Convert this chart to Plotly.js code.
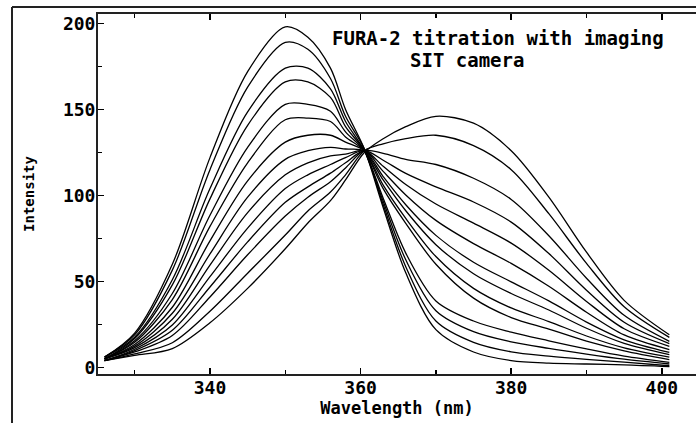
<!DOCTYPE html>
<html>
<head>
<meta charset="utf-8">
<script src="https://cdn.plot.ly/plotly-3.0.1.min.js"></script>
<style>html,body{margin:0;padding:0;background:#fff;}#chart{width:696px;height:423px;}</style>
</head>
<body>
<div id="chart"></div>
<script>
// Wavelength samples (nm)
const wavelength = [326, 330, 335, 340, 345, 350, 353, 356, 358, 360.5, 363, 366, 370, 375, 380, 385, 390, 395, 401];
// Intensity spectra along the titration (step 1 = highest Ca, step 14 = Ca-free)
const step01 = [6, 20, 60, 122, 172, 198, 192, 174, 150, 127, 93, 55, 22, 9, 4, 2.5, 2, 1.5, 0.5];
const step02 = [6, 19, 56.6, 115, 163, 189, 185, 168, 146, 127, 94.7, 58.6, 27, 14.6, 9.1, 6.6, 4.7, 3.1, 1];
const step03 = [6, 17.6, 51, 104, 148.6, 174, 174, 162, 143, 126, 96.6, 62.6, 33, 20.8, 14.9, 11.1, 7.8, 4.8, 2];
const step04 = [5, 16.8, 48, 98, 140.8, 166, 166, 157, 140, 126, 98.4, 66.5, 38.7, 27, 20.5, 15.5, 10.8, 6.6, 3];
const step05 = [5, 15.5, 43, 88.5, 128, 153, 153, 149, 137, 126, 104, 83.8, 60, 40.3, 29, 22.3, 15.3, 9.7, 4.6];
const step06 = [5, 14.6, 39.5, 82, 119, 144, 145, 143, 134, 126, 106, 86.7, 64.5, 46, 34.6, 26.7, 18.3, 11.4, 6];
const step07 = [5, 13.4, 35, 73.6, 108.5, 131, 135, 135, 131, 126, 109, 91.1, 71.4, 54.5, 43, 33.4, 22.8, 14, 7.5];
const step08 = [5, 12.4, 31.5, 66, 99, 121, 126, 128, 127, 126, 111, 94.6, 76.8, 61.2, 49.8, 38.7, 26.4, 16.1, 8.8];
const step09 = [5, 11.5, 28, 59.5, 90, 112, 119, 123, 124, 126, 114, 100.3, 85.5, 72, 60.5, 47.2, 32.1, 18.9, 10.4];
const step10 = [4, 10.6, 24.7, 52.8, 81, 104, 112, 118, 122, 126, 117, 106.4, 95, 83.9, 72.3, 56.5, 38.4, 22.5, 12.3];
const step11 = [4, 9.8, 21.6, 46.8, 73, 96, 105, 113, 119, 126, 120.5, 112.8, 105, 96.2, 84.5, 66.2, 44.9, 26.3, 13.9];
const step12 = [4, 9, 18.6, 41, 65.5, 88, 99, 108, 116, 126, 124.5, 121, 118, 110, 97.7, 76.6, 51.9, 30.3, 15.2];
const step13 = [4, 7.9, 14.4, 32.7, 54.8, 77, 91, 102, 112, 126, 130, 133, 135, 129, 115, 89.4, 60.5, 35.3, 17.5];
const step14 = [4, 7, 11, 26, 46, 69, 84, 97, 109, 125, 133, 140, 146, 142, 126, 99, 67, 39, 19];
const spectra = [step01, step02, step03, step04, step05, step06, step07, step08, step09, step10, step11, step12, step13, step14];
const xTickValues = [340, 360, 380, 400];
const yTickValues = [0, 50, 100, 150, 200];

const FONT = '"DejaVu Sans Mono", "Liberation Mono", monospace';

const traces = spectra.map((s, i) => ({
  x: wavelength, y: s, type: 'scatter', mode: 'lines',
  name: 'step ' + (i + 1),
  line: {color: '#000', width: 1.3, shape: 'spline', smoothing: 0.9},
  hoverinfo: 'x+y'
}));

// paper coordinates for outer frame (plot area: 98..696 px, 14..374 px)
const px = v => (v - 98) / 598;
const py = v => (374 - v) / 360;

const layout = {
  width: 696, height: 423,
  margin: {l: 98, r: 0, t: 14, b: 49},
  paper_bgcolor: '#fff', plot_bgcolor: '#fff',
  showlegend: false,
  font: {family: FONT, color: '#000'},
  xaxis: {
    range: [325.13, 404.54], tickvals: xTickValues, ticks: 'inside', ticklen: 6, tickwidth: 1.5, tickcolor: '#000',
    minor: {dtick: 10, tick0: 330, ticks: 'inside', ticklen: 4, tickwidth: 1.5, tickcolor: '#000'},
    showline: true, linecolor: '#222', linewidth: 2, mirror: 'ticks', showgrid: false, zeroline: false,
    ticklabelstandoff: -4,
    tickfont: {family: FONT, size: 18, color: '#000', weight: 'bold'},
    title: {text: 'Wavelength (nm)', font: {family: FONT, size: 17, color: '#000', weight: 'bold'}, standoff: 0}
  },
  yaxis: {
    range: [-3.8, 205.5], tickvals: yTickValues, ticks: 'inside', ticklen: 6, tickwidth: 1.5, tickcolor: '#000',
    minor: {dtick: 25, tick0: 0, ticks: 'inside', ticklen: 4, tickwidth: 1.5, tickcolor: '#000'},
    showline: true, linecolor: '#222', linewidth: 2, mirror: false, showgrid: false, zeroline: false,
    ticklabelstandoff: -3,
    tickfont: {family: FONT, size: 18, color: '#000', weight: 'bold'},
    title: {text: 'Intensity', font: {family: FONT, size: 14, color: '#000', weight: 'bold'}, standoff: 25}
  },
  annotations: [{
    xref: 'paper', yref: 'paper', x: px(330), y: py(38), xanchor: 'left', yanchor: 'middle',
    align: 'left', showarrow: false,
    text: 'FURA-2 titration with imaging',
    font: {family: FONT, size: 19, color: '#000', weight: 'bold'}
  }, {
    xref: 'paper', yref: 'paper', x: px(408), y: py(60), xanchor: 'left', yanchor: 'middle',
    align: 'left', showarrow: false,
    text: 'SIT camera',
    font: {family: FONT, size: 19, color: '#000', weight: 'bold'}
  }],
  shapes: [
    {type: 'line', xref: 'paper', yref: 'paper', x0: px(12), x1: px(12), y0: py(7), y1: py(424), line: {color: '#222', width: 2}},
    {type: 'line', xref: 'paper', yref: 'paper', x0: px(12), x1: px(697), y0: py(7), y1: py(7), line: {color: '#222', width: 2}}
  ]
};

Plotly.newPlot('chart', traces, layout, {displayModeBar: false, staticPlot: true});
</script>
</body>
</html>
